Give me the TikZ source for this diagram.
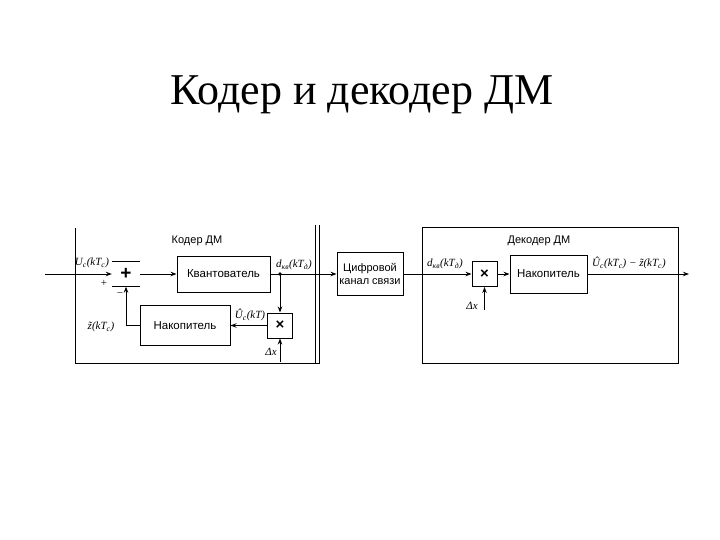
\documentclass[tikz,border=0pt]{standalone}
\usepackage{fontspec}
\setmainfont{Liberation Serif}
\newfontfamily\boxfont{Liberation Sans}
\usetikzlibrary{arrows.meta}
\newcommand\lsub[1]{\textsubscript{#1}}
\begin{document}
\begin{tikzpicture}[x=1pt,y=-1pt,
  blk/.style={draw, line width=1pt, inner sep=1pt, align=center, font=\boxfont\fontsize{11.5}{13}\selectfont},
  lbl/.style={inner sep=0pt, font=\itshape\fontsize{11}{13}\selectfont},
  conn/.style={line width=1pt},
  arr/.style={conn, -{Stealth[length=6pt,width=4.5pt]}},
  frame/.style={line width=1pt}]
\useasboundingbox (0,0) rectangle (720,540);
\node[font=\fontsize{44}{50}\selectfont] (title) at (362,95) {Кодер и декодер ДМ};

% coder frame
\draw[frame] (75,228) -- (75,363) -- (319,363) -- (319,225);
\draw[frame] (315.5,225) -- (315.5,363);
\node[lbl, font=\boxfont\fontsize{11}{13}\selectfont] (coderlbl) at (197,241) {Кодер ДМ};

% coder blocks
\node[inner sep=0pt, minimum width=28pt, minimum height=25pt, font=\boxfont\bfseries\fontsize{19}{19}\selectfont] (sum) at (126,274) {+};
\draw[line width=1pt] (sum.north west) -- (sum.north east) (sum.south west) -- (sum.south east);
\node[blk, minimum width=93pt, minimum height=36pt] (quant) at (223.5,274) {Квантователь};
\node[blk, minimum width=90pt, minimum height=40pt] (nakc) at (185,325.5) {Накопитель};
\node[blk, minimum width=25pt, minimum height=25pt, font=\boxfont\bfseries\fontsize{15}{15}\selectfont] (mulc) at (280,325.5) {×};
\coordinate (inp) at (45,274);
\coordinate (dotc) at (280,274);
\coordinate (dxc) at (280,362);

\draw[arr] (inp) -- (sum.west);
\draw[arr] (sum.east) -- (quant.west);
\draw[conn] (quant.east) -- (dotc);
\fill (dotc) circle (1.8pt);
\draw[arr] (dotc) -- (mulc.north);
\draw[arr] (mulc.west) -- (nakc.east);
\draw[arr] (nakc.west) -- (126,325.5) -- (sum.south);
\draw[arr] (dxc) -- (mulc.south);

\node[lbl] (uin) at (92,263) {\textit{U}\lsub{c}(\textit{kT}\lsub{c})};
\node[lbl, font=\fontsize{11}{13}\selectfont] (plus) at (104,283) {+};
\node[lbl, font=\fontsize{11}{13}\selectfont] (minus) at (120,295) {−};
\node[lbl] (zc) at (101,327) {\~{z}(\textit{kT}\lsub{c})};
\node[lbl] (dkvc) at (294,265) {\textit{d}\lsub{кв}(\textit{kT}\lsub{д})};
\node[lbl] (uc) at (250,315) {\^{U}\lsub{c}(\textit{kT})};
\node[lbl] (dxcl) at (271,352) {Δ\textit{x}};

% channel
\node[blk, minimum width=66pt, minimum height=43pt, font=\boxfont\fontsize{11}{13}\selectfont] (chan) at (370,274) {Цифровой\\канал связи};

% decoder frame
\draw[frame] (422,228) rectangle (678,363);
\node[lbl, font=\boxfont\fontsize{11}{13}\selectfont] (decoderlbl) at (539,241) {Декодер ДМ};

\node[blk, minimum width=25pt, minimum height=25pt, font=\boxfont\bfseries\fontsize{15}{15}\selectfont] (muld) at (484.5,274) {×};
\node[blk, minimum width=77pt, minimum height=38pt] (nakd) at (548.5,274) {Накопитель};
\coordinate (out) at (689,274);
\coordinate (dxd) at (484.5,310);

\draw[arr] (dotc) -- (chan.west);
\draw[arr] (chan.east) -- (muld.west);
\draw[arr] (muld.east) -- (nakd.west);
\draw[arr] (nakd.east) -- (out);
\draw[arr] (dxd) -- (muld.south);

\node[lbl] (dkvd) at (445,264) {\textit{d}\lsub{кв}(\textit{kT}\lsub{д})};
\node[lbl] (dxdl) at (472,306) {Δ\textit{x}};
\node[lbl] (outl) at (629,263) {\^{U}\lsub{c}(\textit{kT}\lsub{c}) − \~{z}(\textit{kT}\lsub{c})};
\end{tikzpicture}
\end{document}
